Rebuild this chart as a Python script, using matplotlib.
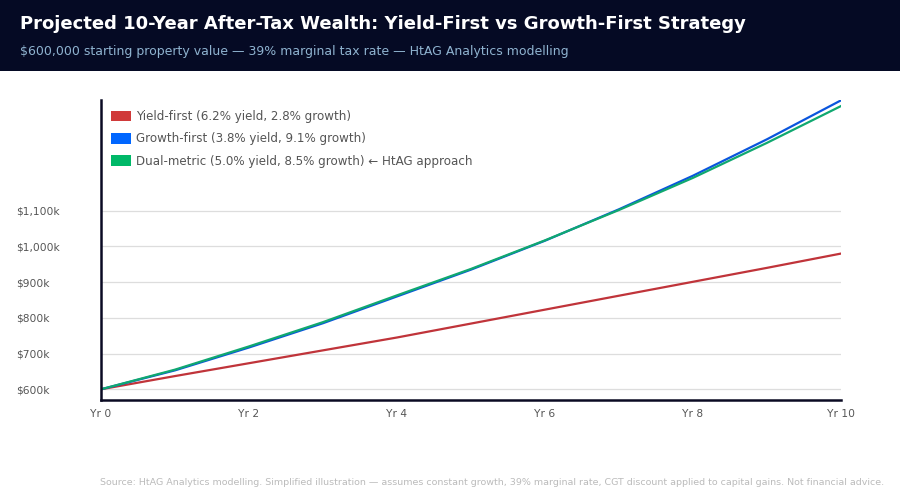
import matplotlib
matplotlib.use("Agg")
import matplotlib.pyplot as plt
from matplotlib.patches import Patch, Rectangle
from matplotlib.ticker import FuncFormatter

# Data (values in $k)
years = [0, 1, 2, 3, 4, 5, 6, 7, 8, 9, 10]
yield_first = [600, 637, 673, 709, 745, 784, 823, 862, 901, 940, 980]
growth_first = [600, 653, 717, 785, 860, 935, 1016, 1104, 1198, 1300, 1409]
dual_metric = [600, 655, 720, 788, 863, 937, 1017, 1102, 1192, 1290, 1393]

labels = [
    "Yield-first (6.2% yield, 2.8% growth)",
    "Growth-first (3.8% yield, 9.1% growth)",
    "Dual-metric (5.0% yield, 8.5% growth) \u2190 HtAG approach",
]
line_colors = ["#c0343a", "#0a55dd", "#10a870"]
patch_colors = ["#d03a3a", "#0066ff", "#00b868"]

xticks = [0, 2, 4, 6, 8, 10]
yticks = [600, 700, 800, 900, 1000, 1100]

fig = plt.figure(figsize=(9, 5), dpi=100)

# Header band
fig.patches.append(Rectangle((0, 0.858), 1, 0.142, transform=fig.transFigure,
                             facecolor="#050a24", edgecolor="none", zorder=0))
fig.text(0.022, 0.952, "Projected 10-Year After-Tax Wealth: Yield-First vs Growth-First Strategy",
         color="white", fontsize=13, fontweight="bold", va="center")
fig.text(0.022, 0.896, "$600,000 starting property value \u2014 39% marginal tax rate \u2014 HtAG Analytics modelling",
         color="#8fb3d0", fontsize=9, va="center")

ax = fig.add_axes([0.1122, 0.2, 0.8222, 0.6])
ax.plot(years, yield_first, color=line_colors[0], lw=1.6)
ax.plot(years, growth_first, color=line_colors[1], lw=1.6)
ax.plot(years, dual_metric, color=line_colors[2], lw=1.6)

ax.set_xlim(0, 10)
ax.set_ylim(570, 1410)
ax.set_xticks(xticks)
ax.set_xticklabels([f"Yr {x}" for x in xticks])
ax.set_yticks(yticks)
ax.yaxis.set_major_formatter(FuncFormatter(lambda v, p: f"${v:,.0f}k"))
ax.tick_params(length=0, labelsize=7.7, colors="#555555")
ax.tick_params(axis="y", pad=61)
ax.tick_params(axis="x", pad=6.5)
for lab in ax.get_yticklabels():
    lab.set_horizontalalignment("left")
ax.grid(axis="y", color="#dddddd", lw=0.9)
ax.set_axisbelow(True)
for s in ["top", "right"]:
    ax.spines[s].set_visible(False)
for s in ["left", "bottom"]:
    ax.spines[s].set_color("#0a0a23")
    ax.spines[s].set_linewidth(1.8)

handles = [Patch(facecolor=c, edgecolor="none") for c in patch_colors]
leg = ax.legend(handles, labels, loc="upper left", bbox_to_anchor=(0.0, 1.0),
                frameon=False, fontsize=8.6, handlelength=1.65, handleheight=1.0,
                handletextpad=0.4, labelspacing=0.78, borderaxespad=0.45)
for t in leg.get_texts():
    t.set_color("#555555")

# footer runs off the right edge, as in the original
fig.text(0.111, 0.035,
         "Source: HtAG Analytics modelling. Simplified illustration \u2014 assumes constant growth, 39% marginal rate, "
         "CGT discount applied to capital gains. Not financial advice.",
         color="#bbbbbb", fontsize=6.8, va="center")

fig.savefig("out.png", dpi=100)
